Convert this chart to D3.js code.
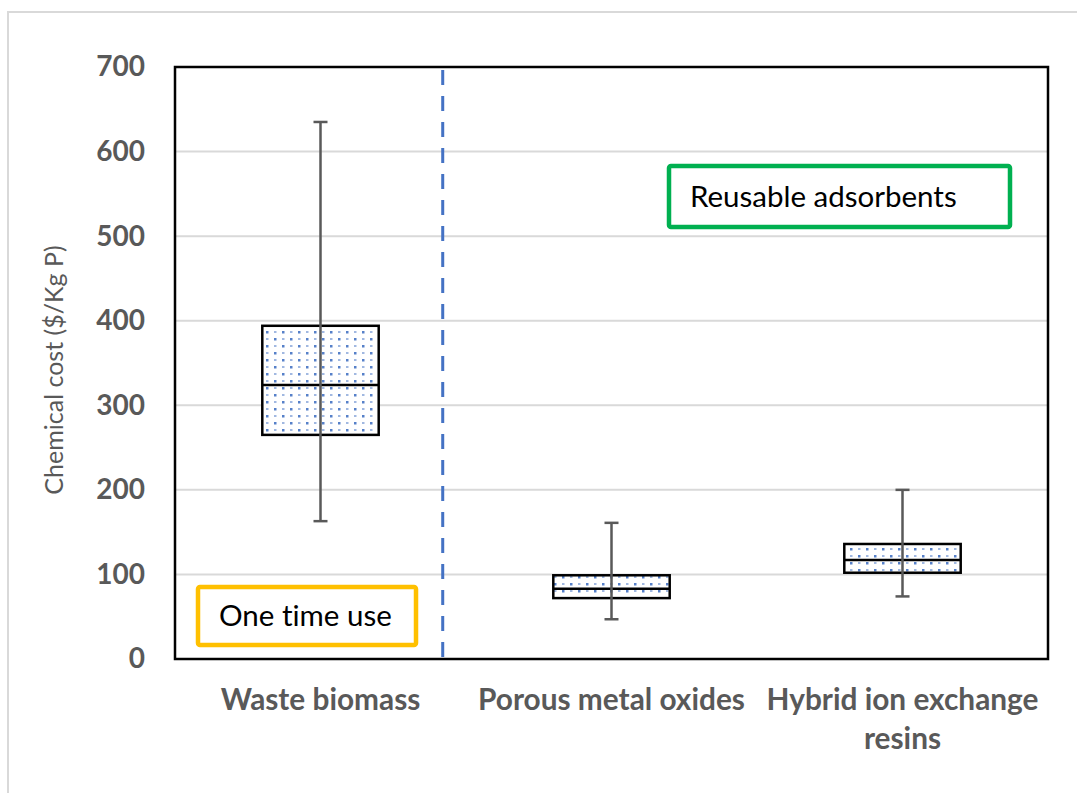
<!DOCTYPE html>
<html>
<head>
<meta charset="utf-8">
<script src="https://cdn.jsdelivr.net/npm/d3@7/dist/d3.min.js"></script>
<style>
  html, body { margin: 0; padding: 0; background: #fff; }
  svg { display: block; }
  text { font-variant-ligatures: none; }
</style>
</head>
<body>
<svg id="chart" width="1077" height="793"></svg>
<script>
// Adsorbent categories and box-plot statistics ($/Kg P)
const categories = ["Waste biomass", "Porous metal oxides", "Hybrid ion exchange resins"];
const categoryLines = [["Waste biomass"], ["Porous metal oxides"], ["Hybrid ion exchange", "resins"]];
const whiskerLow  = [163, 47, 74];
const boxLow      = [265, 72, 102];
const medians     = [324, 83, 117];
const boxHigh     = [394, 99, 136];
const whiskerHigh = [635, 161, 200];
const yTicks = [0, 100, 200, 300, 400, 500, 600, 700];

const FONT = "Lato, 'Open Sans', sans-serif";
const svg = d3.select("#chart");
const W = 1077, H = 793;
const plot = { left: 175, right: 1048, top: 67, bottom: 659 };

// outer frame
svg.append("rect")
  .attr("x", 8).attr("y", 12).attr("width", W + 10).attr("height", H + 10)
  .attr("fill", "#fff").attr("stroke", "#d9d9d9").attr("stroke-width", 2);

const x = d3.scaleBand().domain(categories).range([plot.left, plot.right]);
const y = d3.scaleLinear().domain([0, 700]).range([plot.bottom, plot.top]);

// dotted fill pattern
const defs = svg.append("defs");
const pat = defs.append("pattern")
  .attr("id", "dots").attr("patternUnits", "userSpaceOnUse")
  .attr("width", 16).attr("height", 14);
pat.append("rect").attr("width", 16).attr("height", 14).attr("fill", "#fff");
[[2, 2], [10, 9]].forEach(([cx, cy]) => {
  pat.append("rect").attr("x", cx).attr("y", cy).attr("width", 2.5).attr("height", 2.5).attr("fill", "#4472c4").attr("opacity", 0.9);
});
[[10, 2], [2, 9]].forEach(([cx, cy]) => {
  pat.append("rect").attr("x", cx).attr("y", cy).attr("width", 2.5).attr("height", 2).attr("fill", "#4472c4").attr("opacity", 0.5);
});

// gridlines
svg.append("g").selectAll("line").data(yTicks.filter(d => d > 0)).join("line")
  .attr("x1", plot.left).attr("x2", plot.right)
  .attr("y1", d => y(d)).attr("y2", d => y(d))
  .attr("stroke", "#d9d9d9").attr("stroke-width", 2);

// y axis tick labels
const yAxis = d3.axisLeft(y).tickValues(yTicks).tickSize(0).tickPadding(30);
const gy = svg.append("g").attr("transform", `translate(${plot.left},0)`).call(yAxis);
gy.select(".domain").remove();
gy.selectAll("text")
  .attr("font-family", FONT).attr("font-size", 28).attr("font-weight", "bold")
  .attr("fill", "#595959");

// y axis title
svg.append("text")
  .attr("transform", `translate(63,${(plot.top + plot.bottom) / 2 + 7}) rotate(-90)`)
  .attr("text-anchor", "middle")
  .attr("font-family", FONT).attr("font-size", 25)
  .attr("fill", "#595959")
  .text("Chemical cost ($/Kg P)");

// category labels
const gx = svg.append("g");
categories.forEach((c, i) => {
  const t = gx.append("text")
    .attr("x", x(c) + x.bandwidth() / 2).attr("y", 710)
    .attr("text-anchor", "middle")
    .attr("font-family", FONT).attr("font-size", 29.8).attr("font-weight", "bold")
    .attr("fill", "#595959");
  categoryLines[i].forEach((line, j) => {
    t.append("tspan").attr("x", x(c) + x.bandwidth() / 2).attr("dy", j === 0 ? 0 : 39).text(line);
  });
});

// divider between one-time and reusable adsorbents
const divX = x(categories[1]) - x.bandwidth() * 0.08;
svg.append("line")
  .attr("x1", divX).attr("x2", divX).attr("y1", plot.top + 3).attr("y2", plot.bottom)
  .attr("stroke", "#4472c4").attr("stroke-width", 3).attr("stroke-dasharray", "15,11");

// boxes
const boxW = x.bandwidth() * 0.4;
const capW = 14;
const g = svg.append("g");
categories.forEach((c, i) => {
  const cx = x(c) + x.bandwidth() / 2;
  g.append("rect")
    .attr("x", cx - boxW / 2).attr("y", y(boxHigh[i]))
    .attr("width", boxW).attr("height", y(boxLow[i]) - y(boxHigh[i]))
    .attr("fill", "url(#dots)").attr("stroke", "#000").attr("stroke-width", 2.5);
  g.append("line")
    .attr("x1", cx - boxW / 2).attr("x2", cx + boxW / 2)
    .attr("y1", y(medians[i])).attr("y2", y(medians[i]))
    .attr("stroke", "#000").attr("stroke-width", 2.5);
  g.append("line")
    .attr("x1", cx).attr("x2", cx).attr("y1", y(whiskerLow[i])).attr("y2", y(whiskerHigh[i]))
    .attr("stroke", "#595959").attr("stroke-width", 2.5);
  [whiskerLow[i], whiskerHigh[i]].forEach(v => {
    g.append("line")
      .attr("x1", cx - capW / 2).attr("x2", cx + capW / 2).attr("y1", y(v)).attr("y2", y(v))
      .attr("stroke", "#595959").attr("stroke-width", 2.5);
  });
});

// plot border
svg.append("rect")
  .attr("x", plot.left).attr("y", plot.top)
  .attr("width", plot.right - plot.left).attr("height", plot.bottom - plot.top)
  .attr("fill", "none").attr("stroke", "#000").attr("stroke-width", 2.5);

// annotation boxes
function note(x0, y0, w, h, color, label) {
  svg.append("rect")
    .attr("x", x0).attr("y", y0).attr("width", w).attr("height", h).attr("rx", 2)
    .attr("fill", "#fff").attr("stroke", color).attr("stroke-width", 4.5);
  svg.append("text")
    .attr("x", x0 + 21).attr("y", y0 + h / 2 + 10)
    .attr("font-family", FONT).attr("font-size", 29.5)
    .attr("fill", "#000")
    .text(label);
}
note(198, 587, 218, 58, "#ffc000", "One time use");
note(669, 166, 341, 61, "#00b050", "Reusable adsorbents");
</script>
</body>
</html>
